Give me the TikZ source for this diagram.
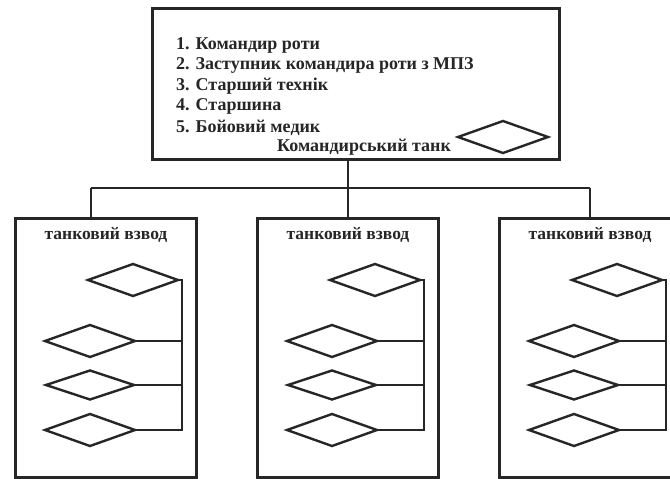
\documentclass[tikz,border=0pt]{standalone}
\usepackage{fontspec}
\setmainfont{Liberation Serif}
\usetikzlibrary{shapes.geometric}
\definecolor{ink}{HTML}{262626}
\tikzset{
  box/.style={draw=ink,line width=2.8pt,fill=white,inner sep=0pt,outer sep=0pt,anchor=north west},
  tank/.style={draw=ink,line width=2.4pt,diamond,aspect=2.8,inner sep=0pt,outer sep=0pt,minimum width=#1,minimum height=32pt},
  tank/.default=90pt,
  wire/.style={draw=ink,line width=2.6pt},
  lbl/.style={inner sep=0pt,font=\fontsize{18}{20}\selectfont\bfseries,text=ink,anchor=base west},
  plt/.style={inner sep=0pt,font=\fontsize{17.5}{20}\selectfont\bfseries,text=ink},
}
\begin{document}
\begin{tikzpicture}[x=1pt,y=-1pt]
\useasboundingbox (0,0) rectangle (670,479);
\node[box,minimum width=407pt,minimum height=151pt] (hq) at (152.5,8.5) {};
\node[lbl] (l1) at (176,49) {1. Командир роти};
\node[lbl] (l2) at (176,69) {2. Заступник командира роти з МПЗ};
\node[lbl] (l3) at (176,90) {3. Старший технік};
\node[lbl] (l4) at (176,110) {4. Старшина};
\node[lbl] (l5) at (176,132) {5. Бойовий медик};
\node[lbl] (l6) at (277,151) {Командирський танк};
\node[tank] (hqt) at (503,137) {};
\coordinate (bus) at (348,188);
\coordinate (busL) at (91,188);
\coordinate (busR) at (590,188);
\draw[wire] (hq.south -| bus) -- (bus);
\draw[wire] (busL) -- (busR);
\foreach \n/\dx in {a/0,b/242,c/484}{
  \node[box,minimum width=181pt,minimum height=259pt] (p\n) at (15.5+\dx,218.5) {};
  \node[plt] (t\n) at (106+\dx,235) {танковий взвод};
  \node[tank] (d1\n) at (133+\dx,280) {};
  \node[tank] (d2\n) at (90+\dx,341) {};
  \node[tank=88pt,minimum height=29pt] (d3\n) at (90+\dx,385) {};
  \node[tank] (d4\n) at (90+\dx,430) {};
  \coordinate (s\n) at (182+\dx,280);
  \draw[wire] (d1\n.east) -- (s\n) -- (s\n |- d4\n.east) -- (d4\n.east);
  \draw[wire] (d2\n.east) -- (s\n |- d2\n.east);
  \draw[wire] (d3\n.east) -- (s\n |- d3\n.east);
}
\draw[wire] (busL) -- (busL |- pa.north);
\draw[wire] (bus) -- (bus |- pb.north);
\draw[wire] (busR) -- (busR |- pc.north);
\end{tikzpicture}
\end{document}
